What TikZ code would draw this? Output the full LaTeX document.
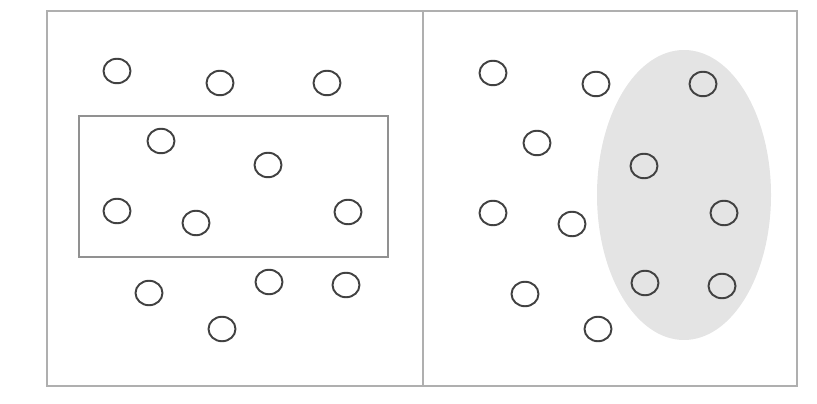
\documentclass[tikz,border=0pt]{standalone}
\usetikzlibrary{shapes.geometric}
\definecolor{framegray}{RGB}{175,175,175}
\definecolor{boxgray}{RGB}{145,145,145}
\definecolor{dotgray}{RGB}{65,65,65}
\definecolor{blobgray}{RGB}{228,228,228}
\tikzset{
  dot/.style={ellipse, draw=dotgray, line width=1.1pt, inner sep=0pt,
    minimum width=0.54cm, minimum height=0.49cm},
}
\begin{document}
\begin{tikzpicture}[x=0.02cm, y=-0.02cm]
  \useasboundingbox (0,0) rectangle (817,404);
  % frame and divider
  \draw[framegray, line width=1.1pt] (47,11) rectangle (797,386);
  \draw[framegray, line width=1.1pt] (423,11) -- (423,386);
  % left panel: box
  \draw[boxgray, line width=1.6pt] (79,116) rectangle (388,257);
  % right panel: shaded blob
  \fill[blobgray] (684,195) ellipse [x radius=87, y radius=145];
  % left panel points
  \foreach \x/\y [count=\i] in {117/71, 220/83, 327/83, 161/141, 268/165,
      117/211, 196/223, 348/212, 149/293, 269/282, 346/285, 222/329}
    \node[dot] (l\i) at (\x,\y) {};
  % right panel points
  \foreach \x/\y [count=\i] in {493/73, 596/84, 703/84, 537/143, 644/166,
      493/213, 572/224, 724/213, 525/294, 645/283, 722/286, 598/329}
    \node[dot] (r\i) at (\x,\y) {};
\end{tikzpicture}
\end{document}
